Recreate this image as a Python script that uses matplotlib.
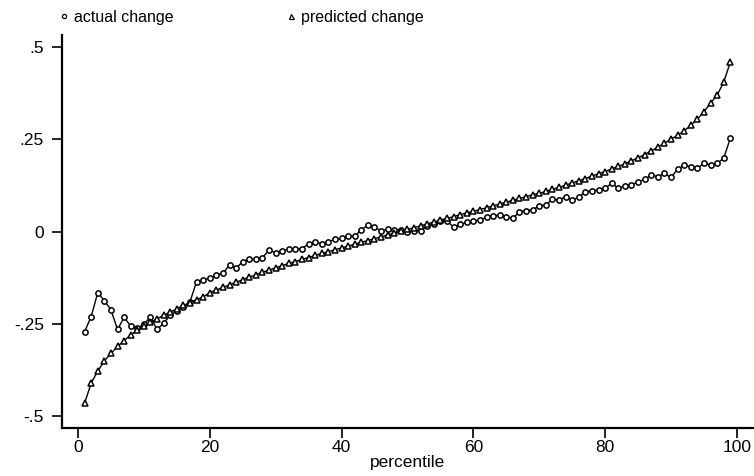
import matplotlib
matplotlib.use("Agg")
import matplotlib.pyplot as plt
from matplotlib.lines import Line2D

plt.rcParams['font.family'] = ['Liberation Sans', 'DejaVu Sans']

percentile = list(range(1, 100))

actual_change = [
    -0.271, -0.230, -0.165, -0.187, -0.212, -0.265, -0.232, -0.256, -0.262, -0.250,
    -0.232, -0.265, -0.248, -0.226, -0.215, -0.205, -0.190, -0.135, -0.131, -0.126,
    -0.117, -0.113, -0.090, -0.099, -0.081, -0.075, -0.075, -0.070, -0.050, -0.057,
    -0.051, -0.048, -0.046, -0.046, -0.033, -0.027, -0.033, -0.027, -0.021, -0.018,
    -0.013, -0.012, 0.005, 0.018, 0.012, 0.003, 0.006, 0.005, 0.005, -0.002,
    0.003, 0.003, 0.015, 0.022, 0.028, 0.030, 0.012, 0.020, 0.025, 0.028,
    0.032, 0.039, 0.043, 0.045, 0.041, 0.036, 0.054, 0.057, 0.059, 0.070,
    0.072, 0.088, 0.086, 0.095, 0.086, 0.093, 0.108, 0.111, 0.113, 0.118,
    0.131, 0.118, 0.124, 0.127, 0.135, 0.142, 0.154, 0.149, 0.158, 0.147,
    0.169, 0.181, 0.176, 0.172, 0.185, 0.181, 0.185, 0.199, 0.253,
]

predicted_change = [
    -0.465, -0.410, -0.378, -0.350, -0.330, -0.311, -0.295, -0.280, -0.267, -0.256,
    -0.246, -0.236, -0.227, -0.218, -0.209, -0.200, -0.192, -0.184, -0.177, -0.165,
    -0.158, -0.151, -0.144, -0.137, -0.130, -0.123, -0.117, -0.110, -0.104, -0.098,
    -0.092, -0.086, -0.081, -0.075, -0.070, -0.064, -0.059, -0.054, -0.049, -0.044,
    -0.039, -0.034, -0.029, -0.024, -0.019, -0.014, -0.009, -0.004, 0.001, 0.006,
    0.011, 0.016, 0.021, 0.026, 0.031, 0.036, 0.041, 0.046, 0.051, 0.055,
    0.060, 0.065, 0.070, 0.075, 0.080, 0.085, 0.090, 0.095, 0.100, 0.104,
    0.109, 0.115, 0.120, 0.126, 0.132, 0.138, 0.144, 0.151, 0.157, 0.163,
    0.170, 0.177, 0.184, 0.192, 0.200, 0.209, 0.219, 0.229, 0.240, 0.251,
    0.261, 0.273, 0.288, 0.305, 0.325, 0.348, 0.370, 0.405, 0.459,
]

x_ticks = [0, 20, 40, 60, 80, 100]
x_tick_labels = ['0', '20', '40', '60', '80', '100']
y_ticks = [-0.5, -0.25, 0, 0.25, 0.5]
y_tick_labels = ['-.5', '-.25', '0', '.25', '.5']

fig = plt.figure(figsize=(7.54, 4.76), dpi=100)
ax = fig.add_axes([62 / 754, 48 / 476, 1 - 62 / 754, (428 - 35) / 476])

ax.plot(percentile, actual_change, color='black', lw=1.0, marker='o', ms=3.8,
        mfc='white', mec='black', mew=1.1, label='actual change')
ax.plot(percentile, predicted_change, color='black', lw=1.0, marker='^', ms=4.8,
        mfc='white', mec='black', mew=1.1, label='predicted change')

ax.set_xlim(-2.43, 102.6)
ax.set_ylim(-0.532, 0.533)
ax.set_xticks(x_ticks)
ax.set_xticklabels(x_tick_labels)
ax.set_yticks(y_ticks)
ax.set_yticklabels(y_tick_labels)

for side in ['top', 'right']:
    ax.spines[side].set_visible(False)
for side in ['left', 'bottom']:
    ax.spines[side].set_linewidth(1.6)
    ax.spines[side].set_color('black')

ax.tick_params(axis='both', direction='out', length=7, width=1.2, labelsize=12.5,
               colors='black')
ax.tick_params(axis='y', pad=6)
ax.tick_params(axis='x', pad=2)
ax.set_xlabel('percentile', fontsize=12.5, labelpad=0)

handles = [
    Line2D([], [], ls='none', marker='o', ms=3.0, mfc='white', mec='black', mew=0.9),
    Line2D([], [], ls='none', marker='^', ms=3.6, mfc='white', mec='black', mew=0.9),
]
fig.legend(handles, ['actual change', 'predicted change'], ncol=2,
           loc='upper left', bbox_to_anchor=(48 / 754, 1.0), frameon=False,
           fontsize=11.5, handlelength=0.8, handletextpad=0.2,
           columnspacing=7.0, borderaxespad=0.2)

fig.savefig('out.png', dpi=100)
